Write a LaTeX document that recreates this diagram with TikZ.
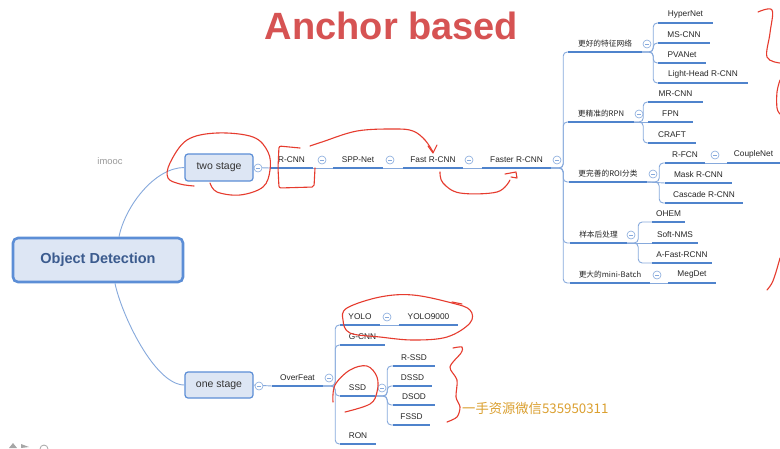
\documentclass[tikz,border=0pt]{standalone}
\usepackage{fontspec}
\setmainfont{Liberation Sans}
\newfontfamily\cjk{Noto Sans CJK SC}
\definecolor{ubl}{HTML}{4F83CC}
\definecolor{cbl}{HTML}{86A9DC}
\definecolor{bfill}{HTML}{DDE6F4}
\definecolor{bdr}{HTML}{5C8ED6}
\definecolor{rtext}{HTML}{3B5B8E}
\definecolor{ttl}{HTML}{D65353}
\definecolor{scr}{HTML}{E63B2E}
\definecolor{wmc}{HTML}{DBA030}
\tikzset{
  leaf/.style={anchor=south, inner sep=0pt, minimum height=16pt, font=\fontsize{8.3}{10}\selectfont, text=black!85},
  cat/.style={leaf, font=\cjk\fontsize{7.7}{9}\selectfont},
  uline/.style={draw=ubl, line width=2.4pt},
  conn/.style={draw=cbl, line width=0.9pt, rounded corners=4pt},
  tog/.style={circle, draw=cbl, line width=0.6pt, fill=white, minimum size=8pt, inner sep=0pt,
    path picture={\draw[cbl,line width=0.6pt] ([xshift=2pt]path picture bounding box.west) -- ([xshift=-2pt]path picture bounding box.east);}},
  stagebox/.style={draw=bdr, fill=bfill, rounded corners=3pt, line width=1.2pt, inner sep=0pt,
    minimum width=68pt, minimum height=27pt, font=\fontsize{10.5}{12}\selectfont, text=black!80},
  scrib/.style={draw=scr, line width=1.1pt, line cap=round, line join=round}
}
\newcommand\branchto[3]{\draw[conn] (#1.south east) -- ++(#3,0) |- (#2.south west);}
\begin{document}
\begin{tikzpicture}[x=1pt,y=-1pt]
\useasboundingbox (0,0) rectangle (780,448);
\fill[white] (0,0) rectangle (780,448);

% title and free texts
\node[text=ttl, font=\fontsize{38}{40}\bfseries\selectfont, inner sep=0pt] (title) at (391.5,26) {Anchor based};
\node[text=black!40, font=\fontsize{9.4}{11}\selectfont, inner sep=0pt] (imooc) at (110,161) {imooc};
\node[anchor=west, text=wmc, font=\cjk\fontsize{13.3}{15}\selectfont, inner sep=0pt] (wm) at (462,408) {一手资源微信535950311};

% main boxes
\node[draw=bdr, fill=bfill, rounded corners=5pt, line width=2.6pt, minimum width=170pt, minimum height=44pt,
  text=rtext, font=\fontsize{14.5}{16}\bfseries\selectfont] (root) at (98,260) {Object Detection};
\node[stagebox] (ts) at (219,167.5) {two stage};
\node[stagebox, minimum height=26pt] (os) at (219,385) {one stage};

% two stage chain
\node[leaf, minimum width=43pt] (rcnn) at (291.5,168) {R-CNN};
\node[leaf, minimum width=50pt] (spp) at (358,168) {SPP-Net};
\node[leaf, minimum width=60pt] (fast) at (433,168) {Fast R-CNN};
\node[leaf, minimum width=69pt] (faster) at (516.5,168) {Faster R-CNN};

% categories
\node[cat, minimum width=74pt] (c1) at (605,52) {更好的特征网络};
\node[cat, minimum width=66pt] (c2) at (601,122) {更精准的RPN};
\node[cat, minimum width=78pt] (c3) at (608,182) {更完善的ROI分类};
\node[cat, minimum width=57pt] (c4) at (598.5,243) {样本后处理};
\node[cat, minimum width=80pt] (c5) at (610,283) {更大的mini-Batch};

% leaves
\node[leaf, minimum width=55pt] (hyper) at (685.5,23) {HyperNet};
\node[leaf, minimum width=52pt] (mscnn) at (684,43) {MS-CNN};
\node[leaf, minimum width=48pt] (pva) at (682,63) {PVANet};
\node[leaf, minimum width=90pt] (light) at (703,83) {Light-Head R-CNN};
\node[leaf, minimum width=55pt] (mrcnn) at (675.5,102) {MR-CNN};
\node[leaf, minimum width=45pt] (fpn) at (670.5,122) {FPN};
\node[leaf, minimum width=48pt] (craft) at (672,143) {CRAFT};
\node[leaf, minimum width=40pt] (rfcn) at (685,163) {R-FCN};
\node[leaf, minimum width=53pt] (couple) at (753.5,163) {CoupleNet};
\node[leaf, minimum width=67pt] (mask) at (698.5,183) {Mask R-CNN};
\node[leaf, minimum width=78pt] (cascade) at (704,203) {Cascade R-CNN};
\node[leaf, minimum width=33pt] (ohem) at (668.5,222) {OHEM};
\node[leaf, minimum width=46pt] (softnms) at (675,243) {Soft-NMS};
\node[leaf, minimum width=60pt] (afast) at (682,263) {A-Fast-RCNN};
\node[leaf, minimum width=48pt] (megdet) at (692,283) {MegDet};

% one stage
\node[leaf, minimum width=51pt] (overfeat) at (297.5,386) {OverFeat};
\node[leaf, minimum width=40pt] (yolo) at (360,325) {YOLO};
\node[leaf, minimum width=59pt] (yolo9k) at (428.5,325) {YOLO9000};
\node[leaf, minimum width=45pt] (gcnn) at (362.5,345) {G-CNN};
\node[leaf, minimum width=35pt] (ssd) at (357.5,396) {SSD};
\node[leaf, minimum width=42pt] (rssd) at (414,366) {R-SSD};
\node[leaf, minimum width=39pt] (dssd) at (412.5,386) {DSSD};
\node[leaf, minimum width=42pt] (dsod) at (414,405) {DSOD};
\node[leaf, minimum width=37pt] (fssd) at (411.5,425) {FSSD};
\node[leaf, minimum width=36pt] (ron) at (358,444) {RON};

% underlines
\foreach \n in {rcnn,spp,fast,faster,c1,c2,c3,c4,c5,hyper,mscnn,pva,light,mrcnn,fpn,craft,rfcn,couple,mask,cascade,ohem,softnms,afast,megdet,overfeat,yolo,yolo9k,gcnn,ssd,rssd,dssd,dsod,fssd,ron}
  \draw[uline] (\n.south west) -- (\n.south east);

% connectors
\draw[conn] ([xshift=21pt]root.north) .. controls +(6,-30) and +(-30,0) .. (ts.west);
\draw[conn] ([xshift=17pt]root.south) .. controls +(6,30) and +(-30,0) .. (os.west);
\draw[conn] (ts.east) -- (rcnn.south west);
\draw[conn] (rcnn.south east) -- (spp.south west);
\draw[conn] (spp.south east) -- (fast.south west);
\draw[conn] (fast.south east) -- (faster.south west);
\foreach \c in {c1,c2,c3,c4,c5} { \branchto{faster}{\c}{12} }
\foreach \c in {hyper,mscnn,pva,light} { \branchto{c1}{\c}{11} }
\branchto{c2}{mrcnn}{9}
\draw[conn] (c2.south east) -- (fpn.south west);
\branchto{c2}{craft}{9}
\branchto{c3}{rfcn}{12}
\draw[conn] (c3.south east) -- (mask.south west);
\branchto{c3}{cascade}{12}
\draw[conn] (rfcn.south east) -- (couple.south west);
\branchto{c4}{ohem}{11}
\draw[conn] (c4.south east) -- (softnms.south west);
\branchto{c4}{afast}{11}
\draw[conn] (c5.south east) -- (megdet.south west);
\draw[conn] (os.east) -- (overfeat.south west);
\foreach \c in {yolo,gcnn,ssd,ron} { \branchto{overfeat}{\c}{12} }
\draw[conn] (yolo.south east) -- (yolo9k.south west);
\foreach \c in {rssd,dssd,dsod,fssd} { \branchto{ssd}{\c}{12} }

% toggles
\node[tog] (tts) at (258,168) {};
\node[tog] (tos) at (259,386) {};
\node[tog] (trcnn) at (322,160) {};
\node[tog] (tspp) at (390,160) {};
\node[tog] (tfast) at (469,160) {};
\node[tog] (tfaster) at (557,160) {};
\node[tog] (tc1) at (647,44) {};
\node[tog] (tc2) at (639,114) {};
\node[tog] (tc3) at (653,174) {};
\node[tog] (tc4) at (631,235) {};
\node[tog] (tc5) at (657,275) {};
\node[tog] (trfcn) at (715,155) {};
\node[tog] (tof) at (329,378) {};
\node[tog] (tyolo) at (387,317) {};
\node[tog] (tssd) at (382,388) {};

% red hand-drawn marks
\draw[scrib] plot[smooth, tension=0.6] coordinates {(194,186) (180,184) (168,178) (170,163) (187,140) (217,133) (253,137) (268,152) (270,170) (263,187) (240,195) (217,192) (210,183)};
\draw[scrib, rounded corners=2pt] (300,148) -- (279,146) -- (278,168) -- (279,188) -- (314,187) -- (315,168);
\draw[scrib] plot[smooth, tension=0.6] coordinates {(310,146) (322,142) (357,131) (395,129) (413,131) (425,140) (433,152)};
\draw[scrib] (428,146) -- (433,153) -- (437,145);
\draw[scrib] plot[smooth, tension=0.6] coordinates {(440,172) (443,183) (460,193) (497,192) (510,180)};
\draw[scrib] (505,174) -- (516,172) -- (517,178) -- (511,177);
\draw[scrib] plot[smooth, tension=0.6] coordinates {(758,12) (772,10) (770,33) (767,57) (780,63)};
\draw[scrib] plot[smooth, tension=0.6] coordinates {(780,80) (777,92) (777,108) (780,114)};
\draw[scrib] plot[smooth, tension=0.6] coordinates {(780,258) (776,272) (772,283) (767,290)};
\draw[scrib] plot[smooth cycle, tension=0.6] coordinates {(343,320) (347,308) (380,297) (413,295) (452,303) (470,310) (470,323) (447,337) (413,340) (380,337) (350,333)};
\draw[scrib] (452,302) -- (462,304);
\draw[scrib] plot[smooth, tension=0.6] coordinates {(333,402) (335,385) (350,370) (367,366) (377,377) (377,392) (370,404) (345,412)};
\draw[scrib] plot[smooth, tension=0.5] coordinates {(453,348) (462,347) (461,353) (450,367) (457,380) (456,397) (460,407) (457,417) (447,422)};

% tiny grey ui marks, bottom left
\fill[black!35] (9,448) -- (13,443) -- (17,448) -- cycle;
\fill[black!35] (21,444) -- (29,447) -- (21,448) -- cycle;
\draw[black!35, line width=0.8pt] (44,449) circle (4);
\end{tikzpicture}
\end{document}
